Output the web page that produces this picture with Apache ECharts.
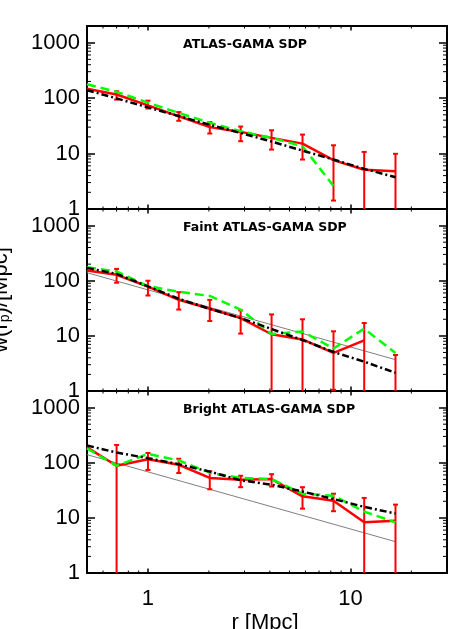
<!DOCTYPE html>
<html>
<head>
<meta charset="utf-8">
<script src="https://cdn.jsdelivr.net/npm/echarts@6/dist/echarts.min.js"></script>
<style>
  html, body { margin: 0; background: #fff; }
  #chart { width: 472px; height: 629px; }
</style>
</head>
<body>
<div id="chart"></div>
<script>
// projected separation bins (Mpc)
const rp = [0.5, 0.7, 1.0, 1.42, 2.02, 2.87, 4.08, 5.8, 8.25, 11.7, 16.7];
const panelTitles = ['ATLAS-GAMA SDP', 'Faint ATLAS-GAMA SDP', 'Bright ATLAS-GAMA SDP'];

// full sample
const allRed = [147, 116, 74, 47, 30, 24.6, 19.2, 15.1, 7.6, 5.1, 4.8];
const allErrLo = [null, 94, 65, 39, 23, 16.7, 11.8, 7.8, 1.42, null, null];
const allErrHi = [null, 133, 90, 56, 37, 30.7, 26.3, 22, 14.1, 10.7, 9.9];
const allGreen = [178, 130, 83, 54, 36, 25.3, 19.2, 13.6, 2.6, null, null];
const allBlack = [139, 99, 68, 47.5, 33, 23.5, 16.5, 11.3, 7.8, 5.3, 3.75];

// faint sample
const faintRed = [153, 128, 78.5, 45, 31, 21, 10.7, 8.6, 4.9, 8.3, null];
const faintErrLo = [null, 92, 54, 30, 18.6, 11, null, null, 1.05, null, null];
const faintErrHi = [null, 164, 100, 62, 45, 29, 24.5, 20, 12.1, 17.1, 4.5];
const faintGreen = [175, 147, 80, 63, 53, 30, 10.8, 12, 5.9, 13.5, 4.9];
const faintBlack = [171, 133, 79, 47, 31, 21, 13.3, 8.4, 5.1, 3.4, 2.14];

// bright sample
const brightRed = [190, 88, 116, 92, 53, 49, 50.5, 24.6, 20.5, 8.3, 8.9];
const brightErrLo = [null, null, 74, 65, 33, 36, 37, 14.7, 13.2, null, null];
const brightErrHi = [null, 210, 150, 118, 70, 58, 62, 36, 27.4, 23, 17.4];
const brightGreen = [182, 88, 145, 110, 66, 53, 50.5, 27.4, 25.3, 13, 8.3];
const brightBlack = [205, 153, 121, 94, 69, 48, 40, 30, 22, 15.8, 12];

// grey reference power law (full-sample fit)
const refX = [0.5, 16.7];
const refY = [140, 3.7];

// axis ranges and minor tick values
const X_MIN = 0.5, X_MAX = 30;
const Y_MIN = 1, Y_MAX = 2000;
const xMinor = [0.6, 0.7, 0.8, 0.9, 2, 3, 4, 5, 6, 7, 8, 9, 20];
const yMinor = [2, 3, 4, 5, 6, 7, 8, 9, 20, 30, 40, 50, 60, 70, 80, 90, 200, 300, 400, 500, 600, 700, 800, 900];

const panels = [
  { red: allRed, lo: allErrLo, hi: allErrHi, green: allGreen, black: allBlack, ref: false },
  { red: faintRed, lo: faintErrLo, hi: faintErrHi, green: faintGreen, black: faintBlack, ref: true },
  { red: brightRed, lo: brightErrLo, hi: brightErrHi, green: brightGreen, black: brightBlack, ref: true }
];

const RED = '#ff0000';
const GREEN = '#00ff00';
const FONT = 'Liberation Sans';
const gridTops = [26, 209, 391];
const gridHeights = [183, 182, 182];

function isPow10(v) {
  const e = Math.log10(v);
  return Math.abs(e - Math.round(e)) < 1e-6;
}

const frame = { show: true, lineStyle: { color: '#000', width: 2 } };

const grids = [];
const xAxes = [];
const yAxes = [];
const series = [];

function pairs(ys) {
  return rp.map((x, i) => [x, ys[i] == null ? '-' : ys[i]]);
}

function errRender(params, api) {
  const x = api.value(0);
  const lo = api.value(1);
  const hi = api.value(2);
  const lowIn = !isNaN(lo) && lo >= Y_MIN;
  const top = api.coord([x, hi]);
  const bot = api.coord([x, lowIn ? lo : Y_MIN]);
  const style = { stroke: RED, lineWidth: 2 };
  const cap = 2.5;
  const children = [
    { type: 'line', shape: { x1: top[0], y1: top[1], x2: bot[0], y2: bot[1] }, style },
    { type: 'line', shape: { x1: top[0] - cap, y1: top[1], x2: top[0] + cap, y2: top[1] }, style }
  ];
  if (lowIn) {
    children.push({ type: 'line', shape: { x1: bot[0] - cap, y1: bot[1], x2: bot[0] + cap, y2: bot[1] }, style });
  }
  return { type: 'group', children };
}

function minorRender(params, api) {
  const style = { stroke: '#000', lineWidth: 1 };
  const children = [];
  xMinor.forEach(v => {
    const b = api.coord([v, Y_MIN]);
    const t = api.coord([v, Y_MAX]);
    children.push({ type: 'line', shape: { x1: b[0], y1: b[1], x2: b[0], y2: b[1] - 2.5 }, style });
    children.push({ type: 'line', shape: { x1: t[0], y1: t[1], x2: t[0], y2: t[1] + 2.5 }, style });
  });
  yMinor.forEach(v => {
    const l = api.coord([X_MIN, v]);
    const r = api.coord([X_MAX, v]);
    children.push({ type: 'line', shape: { x1: l[0], y1: l[1], x2: l[0] + 4, y2: l[1] }, style });
    children.push({ type: 'line', shape: { x1: r[0], y1: r[1], x2: r[0] - 4, y2: r[1] }, style });
  });
  return { type: 'group', children };
}

panels.forEach((p, g) => {
  const last = g === panels.length - 1;
  grids.push({ left: 87, right: 25, top: gridTops[g], height: gridHeights[g] });

  xAxes.push({
    type: 'log', logBase: 10, gridIndex: g, position: 'bottom', min: X_MIN, max: X_MAX,
    axisLine: frame,
    axisTick: { show: true, inside: true, length: 4.5, lineStyle: { color: '#000', width: 1.5 } },
    axisLabel: {
      show: last, margin: 15, color: '#000', fontFamily: FONT, fontSize: 22,
      formatter: v => isPow10(v) ? String(Math.round(v)) : ''
    },
    splitLine: { show: false }
  });
  xAxes.push({
    type: 'log', logBase: 10, gridIndex: g, position: 'top', min: X_MIN, max: X_MAX,
    axisLine: frame,
    axisTick: { show: true, inside: true, length: 4.5, lineStyle: { color: '#000', width: 1.5 } },
    axisLabel: { show: false },
    splitLine: { show: false }
  });
  yAxes.push({
    type: 'log', logBase: 10, gridIndex: g, position: 'left', min: Y_MIN, max: Y_MAX,
    axisLine: frame,
    axisTick: { show: true, inside: true, length: 8, lineStyle: { color: '#000', width: 1.5 } },
    axisLabel: {
      margin: 7, color: '#000', fontFamily: FONT, fontSize: 22,
      formatter: v => isPow10(v) ? String(Math.round(v)) : ''
    },
    splitLine: { show: false }
  });
  yAxes.push({
    type: 'log', logBase: 10, gridIndex: g, position: 'right', min: Y_MIN, max: Y_MAX,
    axisLine: frame,
    axisTick: { show: true, inside: true, length: 8, lineStyle: { color: '#000', width: 1.5 } },
    axisLabel: { show: false },
    splitLine: { show: false }
  });

  const xi = 2 * g, yi = 2 * g;

  series.push({
    type: 'custom', xAxisIndex: xi, yAxisIndex: yi, silent: true, z: 1,
    data: [[1, 10]], renderItem: minorRender
  });

  if (p.ref) {
    series.push({
      type: 'line', xAxisIndex: xi, yAxisIndex: yi, symbol: 'none', silent: true, z: 2,
      data: refX.map((x, i) => [x, refY[i]]),
      lineStyle: { color: '#808080', width: 1 }
    });
  }

  series.push({
    type: 'line', xAxisIndex: xi, yAxisIndex: yi, symbol: 'none', silent: true, z: 3,
    data: pairs(p.red), connectNulls: false,
    lineStyle: { color: RED, width: 2.5 }
  });

  series.push({
    type: 'custom', xAxisIndex: xi, yAxisIndex: yi, silent: true, z: 3,
    dimensions: ['x', 'lo', 'hi'],
    encode: { x: 'x', y: 'hi' },
    data: rp.map((x, i) => [x, p.lo[i] == null ? NaN : p.lo[i], p.hi[i]]).filter(d => d[2] != null),
    renderItem: errRender
  });

  series.push({
    type: 'line', xAxisIndex: xi, yAxisIndex: yi, symbol: 'none', silent: true, z: 4,
    data: pairs(p.green),
    lineStyle: { color: GREEN, width: 2.5, type: [9, 5] }
  });

  series.push({
    type: 'line', xAxisIndex: xi, yAxisIndex: yi, symbol: 'none', silent: true, z: 5,
    data: pairs(p.black),
    lineStyle: { color: '#000', width: 2.5, type: [7, 3, 2, 3] }
  });
});

const titleGraphics = panelTitles.map((t, g) => ({
  type: 'text', left: 183, top: gridTops[g] + 12,
  style: { text: t, fill: '#000', font: 'bold 12.5px "DejaVu Sans"' }
}));

const chart = echarts.init(document.getElementById('chart'));
chart.setOption({
  animation: false,
  backgroundColor: '#fff',
  grid: grids,
  xAxis: xAxes,
  yAxis: yAxes,
  series: series,
  graphic: titleGraphics.concat([
    {
      type: 'text', x: 265, y: 612,
      style: { text: 'r [Mpc]', fill: '#000', font: '22px "Liberation Sans"', textAlign: 'center', textVerticalAlign: 'top' }
    },
    {
      type: 'text', x: 12, y: 300, rotation: Math.PI / 2,
      style: {
        text: 'w(r{sub|p})/[Mpc]', fill: '#000', font: '22px "Liberation Sans"',
        textAlign: 'center', textVerticalAlign: 'bottom',
        rich: { sub: { fontSize: 14, fontFamily: 'Liberation Sans', verticalAlign: 'bottom' } }
      }
    }
  ])
});
</script>
</body>
</html>
